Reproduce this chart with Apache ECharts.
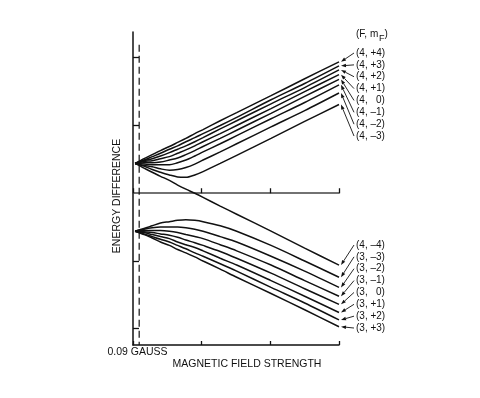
<!DOCTYPE html>
<html>
<head>
<meta charset="utf-8">
<script src="https://cdn.jsdelivr.net/npm/echarts@6/dist/echarts.min.js"></script>
<style>
  html, body { margin: 0; padding: 0; background: #fff; }
  #chart { width: 480px; height: 398px; }
</style>
</head>
<body>
<div id="chart"></div>
<script>
// magnetic field sample points (ticks at 1, 2, 3 on the field axis)
const field = [0.03, 0.16, 0.28, 0.4, 0.53, 0.65, 0.77, 0.9, 1.02, 1.27, 1.51, 2.01, 2.5, 3];
const gaussMark = 0.09;
const gaussText = '0.09 GAUSS';

// upper levels, F = 4 (energy difference, 1 unit = 1 tick)
const f4p4 = [0.44, 0.51, 0.57, 0.63, 0.69, 0.75, 0.81, 0.88, 0.94, 1.07, 1.19, 1.44, 1.69, 1.94];
const f4p3 = [0.44, 0.49, 0.54, 0.59, 0.65, 0.70, 0.76, 0.82, 0.88, 1.00, 1.12, 1.38, 1.62, 1.88];
const f4p2 = [0.44, 0.48, 0.51, 0.55, 0.60, 0.65, 0.70, 0.76, 0.82, 0.95, 1.07, 1.32, 1.56, 1.82];
const f4p1 = [0.44, 0.47, 0.48, 0.51, 0.54, 0.59, 0.64, 0.70, 0.76, 0.88, 1.00, 1.25, 1.50, 1.75];
const f4z  = [0.44, 0.45, 0.45, 0.46, 0.49, 0.52, 0.57, 0.63, 0.69, 0.81, 0.93, 1.18, 1.43, 1.68];
const f4m1 = [0.44, 0.43, 0.42, 0.42, 0.42, 0.45, 0.49, 0.55, 0.61, 0.73, 0.85, 1.10, 1.34, 1.60];
const f4m2 = [0.44, 0.41, 0.39, 0.36, 0.34, 0.35, 0.38, 0.43, 0.49, 0.61, 0.73, 0.98, 1.22, 1.48];
const f4m3 = [0.44, 0.40, 0.35, 0.31, 0.27, 0.24, 0.235, 0.27, 0.32, 0.44, 0.56, 0.81, 1.06, 1.31];
const f4m4 = [0.44, 0.37, 0.31, 0.25, 0.19, 0.12, 0.06, 0.00, -0.06, -0.19, -0.31, -0.56, -0.81, -1.06];

// lower levels, F = 3
const f3m3 = [-0.56, -0.52, -0.48, -0.44, -0.42, -0.40, -0.39, -0.40, -0.42, -0.48, -0.56, -0.77, -1.00, -1.24];
const f3m2 = [-0.56, -0.53, -0.51, -0.50, -0.50, -0.50, -0.51, -0.53, -0.56, -0.64, -0.72, -0.93, -1.15, -1.39];
const f3m1 = [-0.56, -0.55, -0.55, -0.55, -0.56, -0.58, -0.61, -0.64, -0.67, -0.76, -0.85, -1.06, -1.29, -1.52];
const f3z  = [-0.56, -0.57, -0.58, -0.60, -0.62, -0.65, -0.69, -0.73, -0.77, -0.86, -0.96, -1.18, -1.41, -1.64];
const f3p1 = [-0.56, -0.58, -0.61, -0.64, -0.67, -0.72, -0.76, -0.80, -0.85, -0.96, -1.06, -1.29, -1.52, -1.76];
const f3p2 = [-0.56, -0.60, -0.64, -0.68, -0.72, -0.77, -0.82, -0.88, -0.93, -1.04, -1.15, -1.39, -1.62, -1.87];
const f3p3 = [-0.56, -0.61, -0.66, -0.72, -0.77, -0.83, -0.88, -0.94, -1.00, -1.12, -1.24, -1.48, -1.72, -1.97];

const upperLabels = ['(4, +4)', '(4, +3)', '(4, +2)', '(4, +1)', '(4,   0)', '(4, \u20131)', '(4, \u20132)', '(4, \u20133)'];
const lowerLabels = ['(4, \u20134)', '(3, \u20133)', '(3, \u20132)', '(3, \u20131)', '(3,   0)', '(3, +1)', '(3, +2)', '(3, +3)'];
const upperCurves = [f4p4, f4p3, f4p2, f4p1, f4z, f4m1, f4m2, f4m3];
const lowerCurves = [f4m4, f3m3, f3m2, f3m1, f3z, f3p1, f3p2, f3p3];
const yTicks = [-2, -1, 1, 2];

const font = '"Liberation Sans", Arial, Helvetica, sans-serif';
const ink = '#111';

const chart = echarts.init(document.getElementById('chart'));

function curve(vals) {
	return {
		type: 'line',
		data: field.map((x, i) => [x, vals[i]]),
		symbol: 'none',
		smooth: 0.3,
		silent: true,
		lineStyle: {color: ink, width: 1.5},
		z: 3
	};
}

chart.setOption({
	animation: false,
	grid: {left: 133, right: 141, top: 32, bottom: 53},
	xAxis: [
		{
			type: 'value', min: 0, max: 3, interval: 1, position: 'bottom',
			axisLine: {onZero: false, lineStyle: {color: ink, width: 1.5}},
			axisTick: {inside: true, length: 4, lineStyle: {color: ink, width: 1.3}},
			axisLabel: {show: false}, splitLine: {show: false}
		},
		{
			type: 'value', min: 0, max: 3, interval: 1, position: 'top',
			axisLine: {onZero: true, onZeroAxisIndex: 0, lineStyle: {color: '#444', width: 1.5}},
			axisTick: {inside: false, length: 5, lineStyle: {color: ink, width: 1.3}},
			axisLabel: {show: false}, splitLine: {show: false}
		}
	],
	yAxis: {
		type: 'value', min: -2.24, max: 2.38,
		axisLine: {show: true, onZero: false, lineStyle: {color: ink, width: 1.5}},
		axisTick: {show: true, inside: true, length: 6, customValues: yTicks, lineStyle: {color: ink, width: 1.3}},
		axisLabel: {show: false}, splitLine: {show: false}
	},
	series: [
		{
			type: 'line',
			data: [[gaussMark, 2.19], [gaussMark, -2.24]],
			symbol: 'none', silent: true,
			lineStyle: {color: ink, width: 1.2, type: [7, 4]}
		}
	].concat(upperCurves.map(curve), lowerCurves.map(curve))
});

// labels with arrows pointing to the line ends
function arrow(x1, y1, x2, y2) {
	const a = Math.atan2(y2 - y1, x2 - x1);
	const len = 5, hw = 1.8;
	const bx = x2 - len * Math.cos(a), by = y2 - len * Math.sin(a);
	return [
		{type: 'line', shape: {x1: x1, y1: y1, x2: bx, y2: by}, style: {stroke: ink, lineWidth: 0.9}},
		{type: 'polygon', shape: {points: [[x2, y2], [bx + hw * Math.sin(a), by - hw * Math.cos(a)], [bx - hw * Math.sin(a), by + hw * Math.cos(a)]]}, style: {fill: ink}}
	];
}

function text(str, x, y, opts) {
	return Object.assign({
		type: 'text', x: x, y: y,
		style: {text: str, fill: ink, font: '10px ' + font, align: 'left', verticalAlign: 'middle'}
	}, opts || {});
}

const graphic = [];
function labelGroup(labels, curves, top) {
	labels.forEach((lab, i) => {
		const rowY = top + i * 11.86;
		const end = chart.convertToPixel({xAxisIndex: 0, yAxisIndex: 0}, [3, curves[i][curves[i].length - 1]]);
		graphic.push(text(lab, 356, rowY));
		graphic.push.apply(graphic, arrow(354, rowY, end[0] + 2, end[1]));
	});
}
labelGroup(upperLabels, upperCurves, 53);
labelGroup(lowerLabels, lowerCurves, 245);

graphic.push(text('(F, m', 356, 34));
graphic.push(text('F', 379, 38.5, {style: {text: 'F', fill: ink, font: '9px ' + font, align: 'left', verticalAlign: 'middle'}}));
graphic.push(text(')', 384.5, 34));

graphic.push(text(gaussText, 137.5, 352, {style: {text: gaussText, fill: ink, font: '10.5px ' + font, align: 'center', verticalAlign: 'middle'}}));
graphic.push(text('MAGNETIC FIELD STRENGTH', 247, 364, {style: {text: 'MAGNETIC FIELD STRENGTH', fill: ink, font: '10.5px ' + font, align: 'center', verticalAlign: 'middle'}}));
graphic.push(text('ENERGY DIFFERENCE', 117, 196, {rotation: Math.PI / 2, style: {text: 'ENERGY DIFFERENCE', fill: ink, font: '10.5px ' + font, align: 'center', verticalAlign: 'middle'}}));

chart.setOption({graphic: graphic});
</script>
</body>
</html>
